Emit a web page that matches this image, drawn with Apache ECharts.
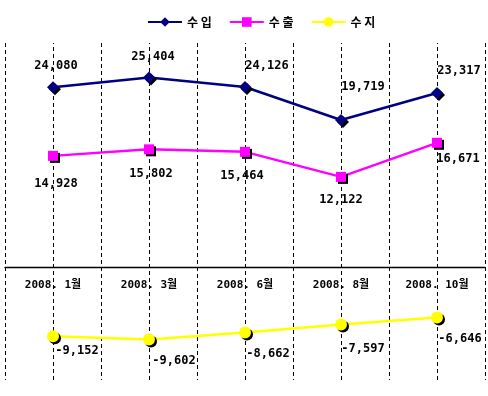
<!DOCTYPE html>
<html><head><meta charset="utf-8">
<script src="https://cdn.jsdelivr.net/npm/echarts@6/dist/echarts.min.js"></script>
<style>html,body{margin:0;padding:0;background:#fff}#c{width:488px;height:396px}</style>
</head><body><div id="c"></div>
<script>
const categories = ['2008. 1월', '2008. 3월', '2008. 6월', '2008. 8월', '2008. 10월'];
const imports = [24080, 25404, 24126, 19719, 23317];
const exportsV = [14928, 15802, 15464, 12122, 16671];
const balance = [-9152, -9602, -8662, -7597, -6646];
const seriesNames = ['수 입', '수 출', '수 지'];
const yMin = -15000, yMax = 30000;

// label placement (style only, in px relative to point)
const importLabelOffsets = [[3,-21],[4,-21],[22,-21],[22,-33],[22,-22]];
const exportLabelOffsets = [[3,28],[2,25],[-3,24],[0,23],[21,16]];
const balanceLabelOffsets = [[24,15],[25,21],[23,21],[22,24],[23,21]];

const gridTop = 43, gridH = 337;
const zeroShift = -gridH * (0 - yMin) / (yMax - yMin); // move axis up to zero line

const numFont = 'DejaVu Sans Mono, Noto Sans CJK KR, monospace';
const fmt = v => {
  const s = Math.abs(v).toString().replace(/\B(?=(\d{3})+(?!\d))/g, ',');
  return (v < 0 ? '-' : '') + s;
};
function mkData(vals, offs) {
  return vals.map((v, i) => ({ value: v, label: { offset: offs[i] } }));
}
const labelBase = {
  show: true, position: 'inside', color: '#000', fontWeight: 'bold',
  fontSize: 12, fontFamily: numFont,
  formatter: p => fmt(p.value)
};
const symShadow = { shadowColor: '#000', shadowBlur: 0, shadowOffsetX: 2, shadowOffsetY: 2 };

const chart = echarts.init(document.getElementById('c'), null, { renderer: 'canvas' });
chart.setOption({
  animation: false,
  backgroundColor: '#fff',
  legend: {
    top: 11, left: 142,
    itemWidth: 34, itemHeight: 12, itemGap: 17,
    textStyle: { color: '#000', fontWeight: 'bold', fontSize: 12, fontFamily: 'Noto Sans CJK KR' },
    data: seriesNames
  },
  grid: { left: 5, right: 3, top: gridTop, height: gridH, containLabel: false },
  xAxis: [{
    type: 'category', data: categories, boundaryGap: true,
    axisLine: { show: false },
    axisTick: { show: false },
    axisLabel: { show: false },
    splitLine: { show: true, interval: 0, lineStyle: { color: '#000', type: [4, 3], width: 1 } }
  }, {
    type: 'category', data: categories, boundaryGap: true, position: 'bottom',
    offset: zeroShift,
    axisLine: { show: true, onZero: false, lineStyle: { color: '#000', width: 1.3 } },
    axisTick: { show: false },
    axisLabel: { color: '#000', fontWeight: 'bold', fontSize: 11, margin: 12,
      fontFamily: numFont, interval: 0 },
    splitLine: { show: false }
  }],
  yAxis: {
    type: 'value', min: yMin, max: yMax, show: false,
    splitLine: { show: false }
  },
  series: [
    {
      name: seriesNames[0], type: 'line', data: mkData(imports, importLabelOffsets),
      color: '#000080', symbol: 'diamond', symbolSize: 12,
      lineStyle: { color: '#000080', width: 2.5 },
      itemStyle: Object.assign({ color: '#000080' }, symShadow),
      label: labelBase, z: 5,
      markLine: {
        silent: true, symbol: 'none', label: { show: false },
        lineStyle: { color: '#000', type: [4, 3], width: 1 },
        data: categories.map(c => ({ xAxis: c }))
      }
    },
    {
      name: seriesNames[1], type: 'line', data: mkData(exportsV, exportLabelOffsets),
      color: '#FF00FF', symbol: 'rect', symbolSize: 10,
      lineStyle: { color: '#FF00FF', width: 2.5 },
      itemStyle: Object.assign({ color: '#FF00FF' }, symShadow),
      label: labelBase, z: 5
    },
    {
      name: seriesNames[2], type: 'line', data: mkData(balance, balanceLabelOffsets),
      color: '#FFFF00', symbol: 'circle', symbolSize: 12,
      lineStyle: { color: '#FFFF00', width: 2.5 },
      itemStyle: Object.assign({ color: '#FFFF00' }, symShadow),
      label: labelBase, z: 5
    }
  ]
});
</script></body></html>
